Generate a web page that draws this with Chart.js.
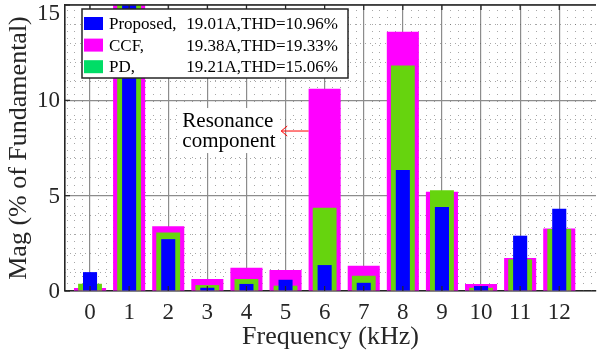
<!DOCTYPE html>
<html>
<head>
<meta charset="utf-8">
<script src="https://cdn.jsdelivr.net/npm/chart.js@4.4.0/dist/chart.umd.min.js"></script>
<style>
  html, body { margin: 0; padding: 0; background: #fff; }
  #wrap { width: 597px; height: 353px; }
</style>
</head>
<body>
<div id="wrap"><canvas id="harm" width="597" height="353"></canvas></div>
<script>
// harmonic spectrum, values (% of fundamental)
var freqs    = [0, 1, 2, 3, 4, 5, 6, 7, 8, 9, 10, 11, 12];
var proposed = [0.99, 100, 2.72, 0.17, 0.37, 0.59, 1.36, 0.43, 6.34, 4.41, 0.26, 2.90, 4.31];
var ccf      = [0.16, 100, 3.40, 0.63, 1.22, 1.10, 10.61, 1.33, 13.60, 5.20, 0.37, 1.73, 3.28];
var pd       = [0.38, 100, 3.07, 0.31, 0.63, 0.28, 4.36, 0.80, 11.83, 5.29, 0.17, 1.66, 3.25];
var yTicks   = [0, 5, 10, 15];

var legendNames = ['Proposed,', 'CCF,', 'PD,'];
var legendInfo  = ['19.01A,THD=10.96%', '19.38A,THD=19.33%', '19.21A,THD=15.06%'];
var legendColors = ['#0000ff', '#ff00ff', '#00dd66'];

var noteLines = ['Resonance', 'component'];

var SERIF = '"Liberation Serif", "Times New Roman", serif';

function toXY(arr) {
  return arr.map(function (v, i) { return { x: freqs[i], y: v }; });
}

// dotted minor grid, like matlab's "grid minor"
var minorGrid = {
  id: 'minorGrid',
  beforeDatasetsDraw: function (chart) {
    var ctx = chart.ctx, a = chart.chartArea, xs = chart.scales.x, ys = chart.scales.y;
    var i, px;
    ctx.save();
    ctx.strokeStyle = 'rgba(80,80,80,0.5)';
    ctx.lineWidth = 1;
    ctx.setLineDash([1, 6]);
    for (i = -3; i <= 65; i++) {
      if (i % 5 === 0) continue;
      px = Math.round(xs.getPixelForValue(i / 5)) + 0.5;
      if (px <= a.left || px >= a.right) continue;
      ctx.beginPath();
      ctx.moveTo(px, a.bottom);
      ctx.lineTo(px, a.top);
      ctx.stroke();
    }
    ctx.setLineDash([1, 4]);
    for (i = 1; i < 15; i++) {
      if (i % 5 === 0) continue;
      px = Math.round(ys.getPixelForValue(i)) + 0.5;
      ctx.beginPath();
      ctx.moveTo(a.left, px);
      ctx.lineTo(a.right, px);
      ctx.stroke();
    }
    ctx.restore();
  }
};

// inward ticks, y labels, top border, annotation and the boxed legend
var decorations = {
  id: 'decorations',
  afterDatasetsDraw: function (chart) {
    var ctx = chart.ctx, a = chart.chartArea, xs = chart.scales.x, ys = chart.scales.y;
    ctx.save();
    ctx.strokeStyle = '#262626';
    ctx.lineWidth = 1.2;
    freqs.forEach(function (v) {
      var px = xs.getPixelForValue(v);
      ctx.beginPath();
      ctx.moveTo(px, a.bottom); ctx.lineTo(px, a.bottom - 5);
      ctx.moveTo(px, a.top); ctx.lineTo(px, a.top + 5);
      ctx.stroke();
    });
    ctx.font = '23px ' + SERIF;
    ctx.fillStyle = '#262626';
    ctx.textAlign = 'right';
    ctx.textBaseline = 'middle';
    yTicks.forEach(function (v) {
      var py = ys.getPixelForValue(v);
      ctx.beginPath();
      ctx.moveTo(a.left, py); ctx.lineTo(a.left + 5, py);
      ctx.stroke();
      // top label sits a bit lower so it is not cut by the canvas edge
      ctx.fillText(String(v), a.left - 5, Math.max(py, a.top + 8) + 1);
    });
    ctx.lineWidth = 1.6;
    ctx.beginPath();
    ctx.moveTo(a.left, a.top); ctx.lineTo(a.right, a.top);
    ctx.stroke();

    // "Resonance component" note with arrow toward the 6 kHz CCF bar
    var tx = xs.getPixelForValue(2.36), ty = ys.getPixelForValue(8.6);
    ctx.font = '21px ' + SERIF;
    ctx.fillStyle = '#fff';
    ctx.fillRect(tx - 3, ty - 19, 100, 45);
    ctx.fillStyle = '#000';
    ctx.textBaseline = 'alphabetic';
    ctx.textAlign = 'left';
    ctx.fillText(noteLines[0], tx, ty);
    ctx.fillText(noteLines[1], tx, ty + 20);

    var ax0 = xs.getPixelForValue(5.59), ax1 = xs.getPixelForValue(4.89), ay = ys.getPixelForValue(8.39);
    ctx.strokeStyle = '#ff0000';
    ctx.lineWidth = 1;
    ctx.beginPath();
    ctx.moveTo(ax0, ay); ctx.lineTo(ax1, ay);
    ctx.moveTo(ax1 + 6, ay - 5); ctx.lineTo(ax1, ay); ctx.lineTo(ax1 + 6, ay + 5);
    ctx.stroke();

    // legend box
    var bx = a.left + 17, by = a.top + 4, bw = 266, bh = 69;
    ctx.fillStyle = '#fff';
    ctx.fillRect(bx, by, bw, bh);
    ctx.strokeStyle = '#262626';
    ctx.lineWidth = 1.5;
    ctx.strokeRect(bx, by, bw, bh);
    ctx.font = '17px ' + SERIF;
    ctx.textBaseline = 'middle';
    for (var i = 0; i < legendNames.length; i++) {
      var cy = by + 14.5 + i * 21.6;
      ctx.fillStyle = legendColors[i];
      ctx.fillRect(bx + 2, cy - 6.5, 19, 13);
      ctx.fillStyle = '#000';
      ctx.textAlign = 'left';
      ctx.fillText(legendNames[i], bx + 27, cy + 1);
      ctx.textAlign = 'right';
      ctx.fillText(legendInfo[i], bx + 256, cy + 1);
    }
    ctx.restore();
  }
};

new Chart(document.getElementById('harm'), {
  type: 'bar',
  data: {
    datasets: [
      { label: 'Proposed, 19.01A,THD=10.96%', data: toXY(proposed), backgroundColor: '#0000ff', barPercentage: 0.36, order: 0 },
      { label: 'CCF, 19.38A,THD=19.33%', data: toXY(ccf), backgroundColor: '#ff00ff', barPercentage: 0.82, order: 2 },
      { label: 'PD, 19.21A,THD=15.06%', data: toXY(pd), backgroundColor: '#66d40e', barPercentage: 0.61, order: 1 }
    ]
  },
  options: {
    responsive: false,
    animation: false,
    datasets: { bar: { grouped: false, categoryPercentage: 1, borderWidth: 0 } },
    layout: { padding: { left: 0, right: 1, top: 5, bottom: 0 } },
    plugins: { legend: { display: false }, tooltip: { enabled: false } },
    scales: {
      x: {
        type: 'linear',
        offset: false,
        min: -0.64,
        max: 12.94,
        afterBuildTicks: function (scale) {
          scale.ticks = freqs.map(function (v) { return { value: v }; });
        },
        afterFit: function (scale) {
          scale.height = 62;
          scale.paddingLeft = 0;
          scale.paddingRight = 0;
        },
        ticks: { font: { family: SERIF, size: 23 }, color: '#262626', padding: 8, maxRotation: 0, autoSkip: false },
        grid: { color: '#8c8c8c', lineWidth: 1.2, drawTicks: false, offset: false },
        border: { display: true, color: '#262626', width: 1.6 },
        title: { display: true, text: 'Frequency (kHz)', font: { family: SERIF, size: 26 }, color: '#262626', padding: { top: 0, bottom: 0 } }
      },
      y: {
        min: 0,
        max: 15,
        afterBuildTicks: function (scale) {
          scale.ticks = yTicks.map(function (v) { return { value: v }; });
        },
        afterFit: function (scale) {
          scale.width = 65;
          scale.paddingTop = 0;
          scale.paddingBottom = 0;
        },
        ticks: { display: false },
        grid: { color: '#8c8c8c', lineWidth: 1.2, drawTicks: false },
        border: { display: true, color: '#262626', width: 1.6 },
        title: { display: true, text: 'Mag (% of Fundamental)', font: { family: SERIF, size: 26 }, color: '#262626', padding: { top: 4, bottom: 0 } }
      }
    }
  },
  plugins: [minorGrid, decorations]
});
</script>
</body>
</html>
